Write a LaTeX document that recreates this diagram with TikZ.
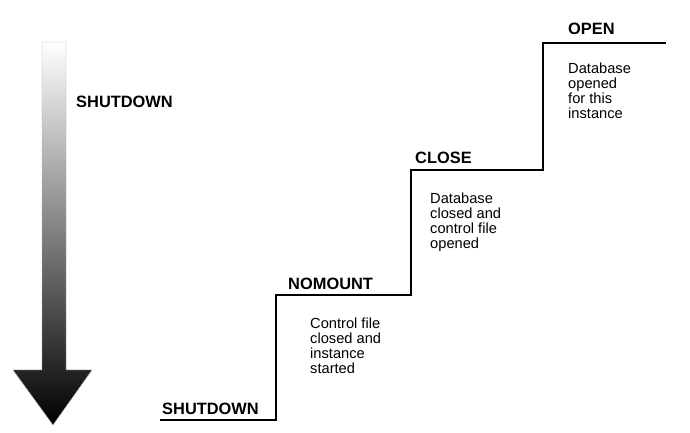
\documentclass[tikz,border=0pt]{standalone}
\usepackage{fontspec}
\setmainfont{Liberation Sans}
\usetikzlibrary{positioning}
\begin{document}
\begin{tikzpicture}[x=0.03cm, y=-0.03cm,
  stage/.style={font=\fontsize{14}{16}\selectfont\bfseries, anchor=south west, inner sep=0pt},
  note/.style={font=\fontsize{12.5}{12.8}\selectfont, align=left, anchor=north west, inner sep=0pt}]
  \useasboundingbox (0,0) rectangle (690,433);
  % shaded arrow
  \shade[top color=white, bottom color=black, draw=gray!60, line width=0.4pt]
    (42,42) -- (66,42) -- (66,370) -- (92,370) -- (53,425) -- (13,370) -- (42,370) -- cycle;
  \node[stage] (side) at (76,108) {SHUTDOWN};
  % steps
  \coordinate (s0) at (160,420);
  \coordinate (s1) at (276,420);
  \coordinate (s2) at (276,295);
  \coordinate (s3) at (411,295);
  \coordinate (s4) at (411,170);
  \coordinate (s5) at (543,170);
  \coordinate (s6) at (543,43);
  \coordinate (s7) at (666,43);
  \draw[line width=2.2pt] (s0) -- (s1) -- (s2) -- (s3) -- (s4) -- (s5) -- (s6) -- (s7);
  % stage names
  \node[stage] (shut) at (162,415) {SHUTDOWN};
  \node[stage] (nomount) at (288,290) {NOMOUNT};
  \node[stage] (close) at (415,164) {CLOSE};
  \node[stage] (open) at (568,35) {OPEN};
  % descriptions
  \node[note] (n1) at (310,318) {Control file\\closed and\\instance\\started};
  \node[note] (n2) at (430,193) {Database\\closed and\\control file\\opened};
  \node[note] (n3) at (568,63) {Database\\opened\\for this\\instance};
\end{tikzpicture}
\end{document}
